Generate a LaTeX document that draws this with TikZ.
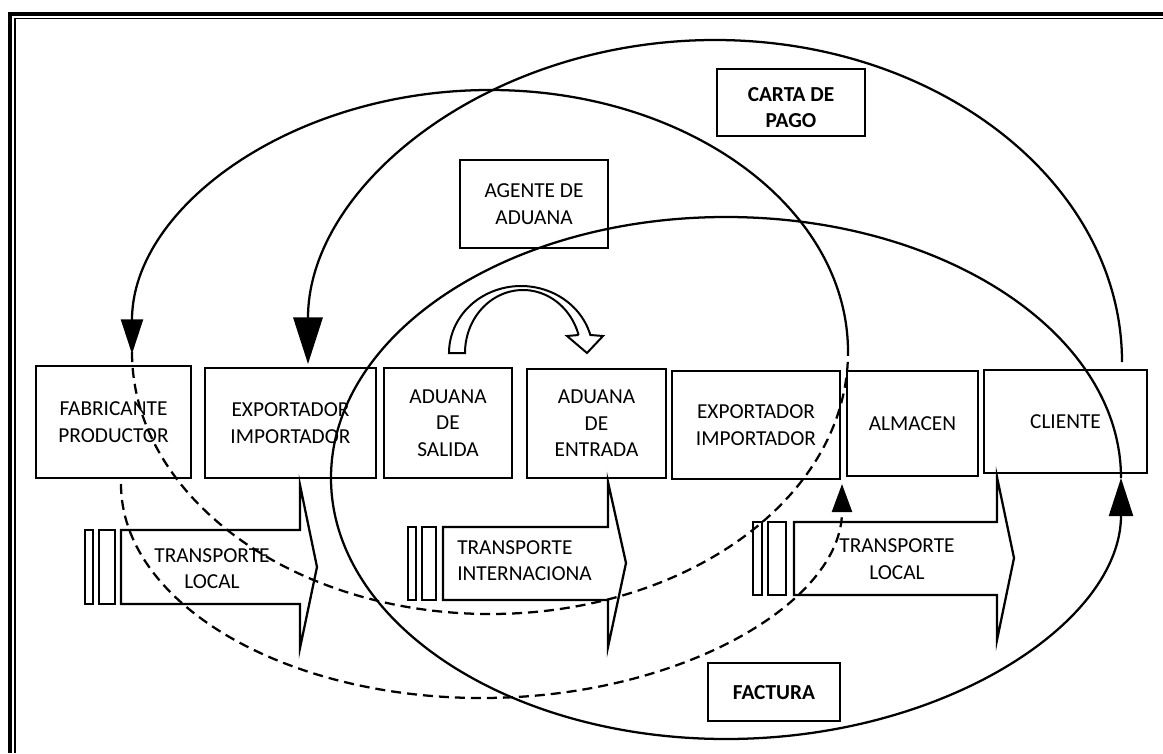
\documentclass[tikz,border=0pt]{standalone}
\usepackage{fontspec}
\setmainfont{Carlito}
\usetikzlibrary{arrows.meta}
\newcommand{\dgmfont}{\fontsize{16pt}{19.8pt}\selectfont}
\begin{document}
\begin{tikzpicture}[x=0.75pt,y=-0.75pt,
  line join=miter,
  box/.style={draw, line width=1.7pt, inner sep=0pt, align=center, font=\dgmfont},
  sz/.style 2 args={minimum width=#1*0.75pt, minimum height=#2*0.75pt},
  txt/.style={inner sep=0pt, align=center, font=\dgmfont},
  bold/.style={inner sep=0pt, align=center, font=\dgmfont\bfseries},
  curve/.style={line width=1.7pt},
  dashcurve/.style={line width=1.7pt, dash pattern=on 7.5pt off 4.5pt},
  transp/.style={line width=1.7pt},
  tipA/.style={-{Triangle[length=35pt,width=22pt]}},
  tipB/.style={-{Triangle[length=26pt,width=16.5pt]}},
  tipC/.style={-{Triangle[length=28.5pt,width=18pt]}},
  tipD/.style={-{Triangle[length=21pt,width=15pt]}}]
\useasboundingbox (0,0) rectangle (1163,753);

% page frame: thick outer rule and thin inner rule
\draw[line width=3.4pt] (1163,13.8) -- (9.8,13.8) -- (9.8,753);
\draw[line width=1.2pt] (1163,18.5) -- (14.8,18.5) -- (14.8,753);

% chain of participants
\node[box, sz={155}{112}] (fab)  at (113.5,422)  {FABRICANTE\\PRODUCTOR};
\node[box, sz={171}{110}] (exp1) at (290.5,423)  {EXPORTADOR\\IMPORTADOR};
\node[box, sz={128}{110}] (sal)  at (448,423)    {ADUANA\\DE\\SALIDA};
\node[box, sz={139}{109}] (ent)  at (596.5,423.5){ADUANA\\DE\\ENTRADA};
\node[box, sz={168}{108}] (exp2) at (756,425)    {EXPORTADOR\\IMPORTADOR};
\node[box, sz={131}{105}] (alm)  at (912.5,423.5){ALMACEN};
\node[box, sz={163}{103}] (cli)  at (1065.5,421.5){CLIENTE};

% documents and agents
\node[box, sz={148}{67}] (carta) at (791,102.5) {};
\node[bold] (cartaT) at (791,107.5) {CARTA DE\\PAGO};
\node[box, sz={148}{88}] (agente) at (534,204) {AGENTE DE\\ADUANA};
\node[box, sz={132}{58}] (factura) at (774,692) {};
\node[bold] (facturaT) at (774,693) {FACTURA};

% transport arrows (striped tail + notched head)
\draw[transp] (85,530) rectangle (93,604);
\draw[transp] (99,530) rectangle (115,604);
\draw[transp] (121,530) -- (300,530) -- (300,485) -- (317,567) -- (300,648) -- (300,604) -- (121,604) -- cycle;
\node[txt] (tr1) at (212,568.5) {TRANSPORTE\\LOCAL};

\draw[transp] (408,527) rectangle (416,600);
\draw[transp] (422,527) rectangle (436,600);
\draw[transp] (443,527) -- (608,527) -- (608,482) -- (626,563) -- (608,647) -- (608,600) -- (443,600) -- cycle;
\node[inner sep=0pt, align=left, font=\dgmfont, anchor=west] (tr2) at (457,560.5) {TRANSPORTE\\INTERNACIONA};

\draw[transp] (753,522) rectangle (762,595);
\draw[transp] (768,522) rectangle (786,595);
\draw[transp] (794,522) -- (997,522) -- (997,477) -- (1014,558) -- (997,640) -- (997,595) -- (794,595) -- cycle;
\node[txt] (tr3) at (897,559) {TRANSPORTE\\LOCAL};

% hollow curved arrow from exit customs to entry customs
\draw[line width=1.5pt, fill=white]
  plot[domain=180:344.4, samples=60] ({521+72*cos(\x)},{353+67*sin(\x)})
  -- (603,336) -- (587,353) -- (567,336) -- (578.6,335)
  -- plot[domain=343.4:180, samples=60] ({523+58*cos(\x)},{353+63*sin(\x)})
  -- cycle;

% key points of the flow loops
\coordinate (aR) at (1122,362);
\coordinate (aT) at (715,40);
\coordinate (aL) at (308,364);
\coordinate (bR) at (848,352);
\coordinate (bT) at (490,90);
\coordinate (bL) at (132,354);
\coordinate (bL2) at (132,352);
\coordinate (bB) at (490,614);
\coordinate (cR) at (1121,478);
\coordinate (cT) at (726,217);
\coordinate (cL) at (331,478);
\coordinate (cB) at (726,739);
\coordinate (dL) at (121,484);
\coordinate (dB) at (481.5,698);
\coordinate (dR) at (842,484);

% client back to exporter
\draw[curve, tipA] (aR) .. controls (1122,184.2) and (939.8,40) .. (aT)
  .. controls (490.2,40) and (308,184.2) .. (aL);

% loop through the manufacturer
\draw[curve, tipB] (bR) .. controls (848,207.3) and (687.7,90) .. (bT)
  .. controls (292.3,90) and (132,207.3) .. (bL);
\draw[dashcurve] (bL2) .. controls (132,496.7) and (292.3,614) .. (bB)
  .. controls (687.7,614) and (848,496.7) .. (bR);

% closed loop around the customs and client side
\draw[curve, tipC] (cR) .. controls (1121,333.8) and (944.2,217) .. (cT)
  .. controls (507.8,217) and (331,333.8) .. (cL)
  .. controls (331,622.2) and (507.8,739) .. (cB)
  .. controls (944.2,739) and (1121,622.2) .. (cR);

% dashed return from the manufacturer to the warehouse side
\draw[dashcurve, tipD] (dL) .. controls (121,602.2) and (282.4,698) .. (dB)
  .. controls (680.6,698) and (842,602.2) .. (dR);
\end{tikzpicture}
\end{document}
